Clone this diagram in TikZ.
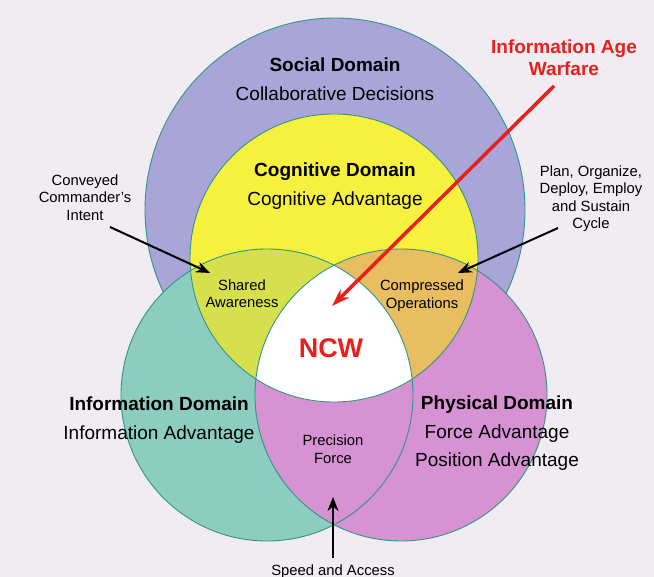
\documentclass[tikz,border=0pt]{standalone}
\usepackage{fontspec}
\setmainfont{Liberation Sans}
\usepackage{xcolor}
\usetikzlibrary{arrows.meta}
\definecolor{pagebg}{RGB}{240, 236, 242}
\definecolor{socialpurple}{RGB}{170, 165, 216}
\definecolor{cogyellow}{RGB}{245, 241, 62}
\definecolor{infoteal}{RGB}{141, 205, 192}
\definecolor{physmagenta}{RGB}{214, 146, 210}
\definecolor{sharedgreen}{RGB}{214, 224, 76}
\definecolor{comporange}{RGB}{232, 190, 96}
\definecolor{rimline}{RGB}{48, 150, 135}
\definecolor{ncwred}{RGB}{232, 32, 28}

\tikzset{
    rim/.style={draw=rimline, line width=0.9pt},
    bigtext/.style={font=\fontsize{19}{28.5}\selectfont, align=center, inner sep=0pt},
    smalltext/.style={font=\fontsize{14.8}{17.5}\selectfont, align=center, inner sep=0pt},
    pointer/.style={-{Stealth[length=14pt, width=11pt]}, line width=2pt, black},
}

\begin{document}
\begin{tikzpicture}[x=1pt, y=-1pt]
    \fill[pagebg] (0,0) rectangle (654,577);
    \useasboundingbox (0,0) rectangle (654,577);

    % centres of the four domains
    \coordinate (socialc) at (335,210);
    \coordinate (cogc) at (334,258);
    \coordinate (infoc) at (267,395);
    \coordinate (physc) at (401,395);

    % filled domains, back to front
    \fill[socialpurple, rim] (socialc) ellipse [x radius=190, y radius=192];
    \fill[infoteal] (infoc) circle [radius=146];
    \fill[physmagenta] (physc) circle [radius=146];
    \fill[cogyellow] (cogc) circle [radius=144];
    \begin{scope}
        \clip (cogc) circle [radius=144];
        \fill[sharedgreen] (infoc) circle [radius=146];
        \fill[comporange] (physc) circle [radius=146];
        \clip (infoc) circle [radius=146];
        \fill[white] (physc) circle [radius=146];
    \end{scope}
    \draw[rim] (infoc) circle [radius=146];
    \draw[rim] (physc) circle [radius=146];
    \draw[rim] (cogc) circle [radius=144];

    % domain labels
    \node[bigtext] (social) at (335,79.1) {\textbf{Social Domain}\\Collaborative Decisions};
    \node[bigtext] (cognitive) at (335,186.1) {\textbf{Cognitive Domain}\\Cognitive Advantage};
    \node[bigtext] (information) at (159,420.1) {\textbf{Information Domain}\\Information Advantage};
    \node[bigtext] (physical) at (497,433.4) {\textbf{Physical Domain}\\Force Advantage\\Position Advantage};

    % overlap labels
    \node[smalltext] (shared) at (242,293.9) {Shared\\Awareness};
    \node[smalltext] (compressed) at (422,295.5) {Compressed\\Operations};
    \node[smalltext] (precision) at (333,449.4) {Precision\\Force};
    \node[font=\bfseries\fontsize{27}{30}\selectfont, text=ncwred, inner sep=0pt] (ncw) at (331,348) {NCW};

    % outside notes
    \node[smalltext] (intent) at (85,197.4) {Conveyed\\Commander's\\Intent};
    \node[smalltext] (cycle) at (591,198.5) {Plan, Organize,\\Deploy, Employ\\and Sustain\\Cycle};
    \node[smalltext] (speed) at (333,571.4) {Speed and Access};
    \node[font=\bfseries\fontsize{19}{22}\selectfont, text=ncwred, align=center, inner sep=0pt] (iaw) at (564,57.9) {Information Age\\Warfare};

    % arrow ends
    \coordinate (intenttail) at (110,227);
    \coordinate (sharedtip) at (210,273);
    \coordinate (cycletail) at (558,228);
    \coordinate (comptip) at (458,273);
    \coordinate (speedtail) at (333,558);
    \coordinate (precisiontip) at (333,497);
    \coordinate (iawtail) at (554,86);
    \coordinate (ncwtip) at (332,306);

    \draw[pointer] (intenttail) -- (sharedtip);
    \draw[pointer] (cycletail) -- (comptip);
    \draw[pointer] (speedtail) -- (precisiontip);
    \draw[-{Stealth[length=18pt, width=12pt]}, line width=3.5pt, ncwred] (iawtail) -- (ncwtip);
\end{tikzpicture}
\end{document}
